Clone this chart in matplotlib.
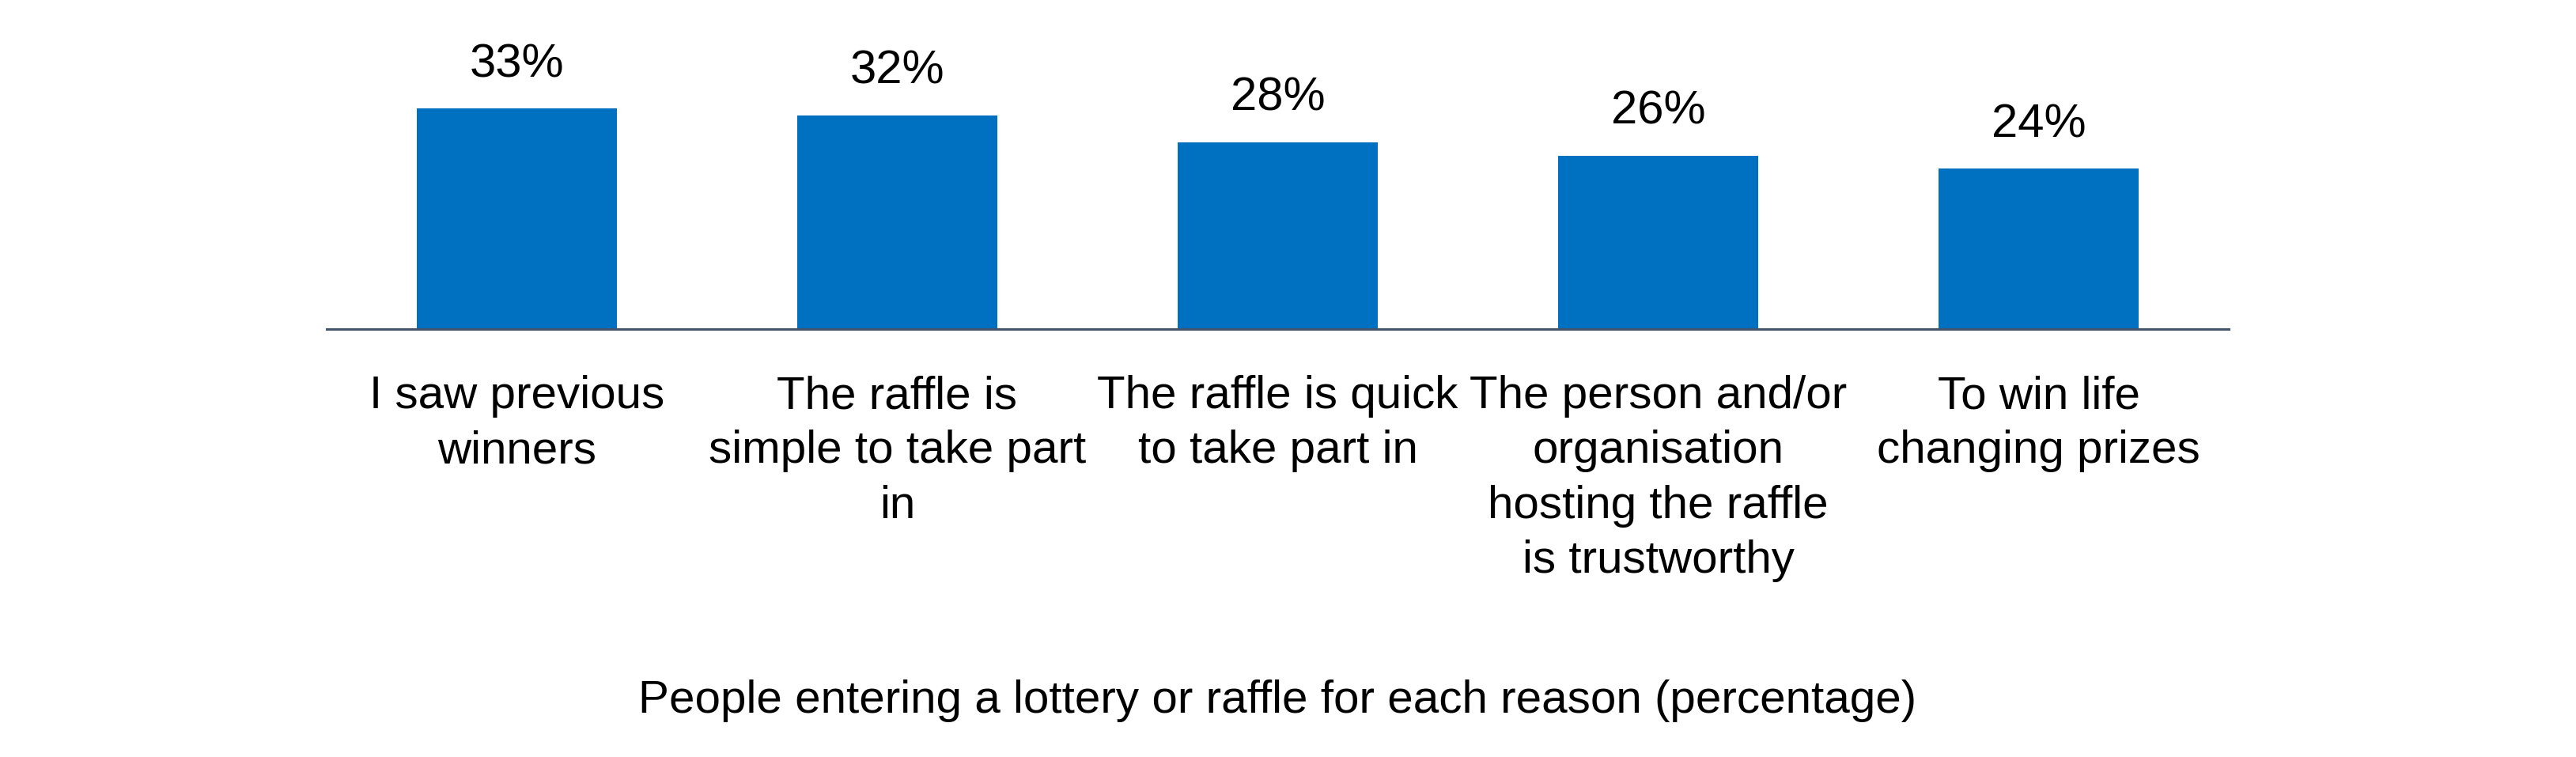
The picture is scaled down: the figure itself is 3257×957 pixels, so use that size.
import matplotlib
matplotlib.use("Agg")
import matplotlib.pyplot as plt

# reasons for entering, as wrapped on the original chart
reasons = [
    "I saw previous\nwinners",
    "The raffle is\nsimple to take part\nin",
    "The raffle is quick\nto take part in",
    "The person and/or\norganisation\nhosting the raffle\nis trustworthy",
    "To win life\nchanging prizes",
]
percent = [33, 32, 28, 26, 24]
title = "People entering a lottery or raffle for each reason (percentage)"

plt.rcParams["font.family"] = ["Liberation Sans", "DejaVu Sans"]

W, H = 3257, 957
fig = plt.figure(figsize=(W / 100, H / 100), dpi=100)
ax = fig.add_axes([413 / W, 1 - 416 / H, (2818 - 413) / W, 40 * 8.44 / H])

x = range(len(reasons))
bars = ax.bar(x, percent, width=0.526, color="#0070C0")
ax.set_xlim(-0.5, len(reasons) - 0.5)
ax.set_ylim(0, 40)

# value labels above each bar
for b, v in zip(bars, percent):
    ax.annotate(f"{v}%", (b.get_x() + b.get_width() / 2, v),
                xytext=(0, 29), textcoords="offset points",
                ha="center", va="baseline", fontsize=43, color="black")

ax.set_xticks(list(x))
ax.set_xticklabels(reasons, fontsize=42, linespacing=1.36)
ax.tick_params(axis="x", length=0, pad=42)
ax.set_yticks([])

for s in ["top", "right", "left"]:
    ax.spines[s].set_visible(False)
ax.spines["bottom"].set_color("#44546A")
ax.spines["bottom"].set_linewidth(2.2)

fig.text(1615 / W, 1 - 901 / H, title, ha="center", va="baseline", fontsize=42)

fig.savefig("out.png", dpi=100, facecolor="white")
